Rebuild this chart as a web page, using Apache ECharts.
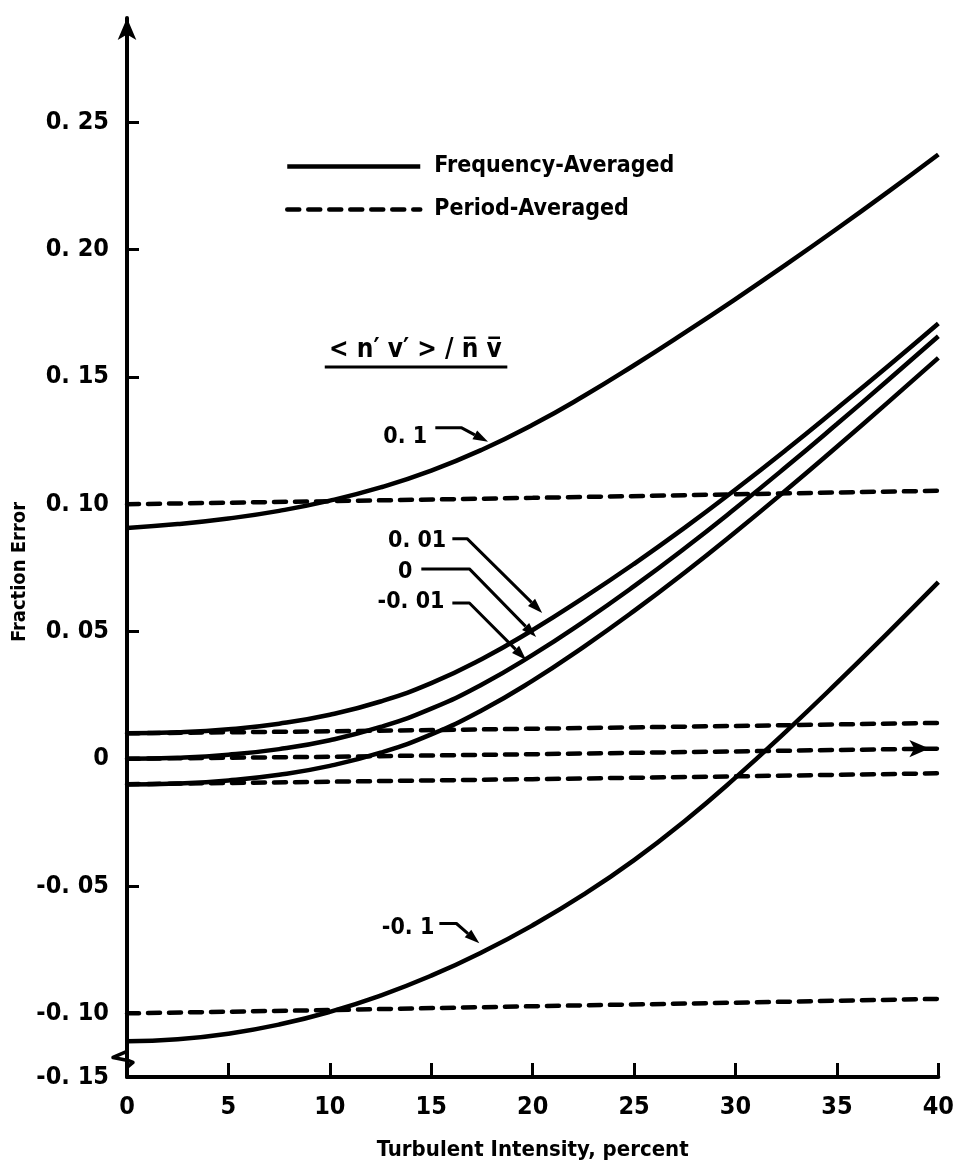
<!DOCTYPE html>
<html><head><meta charset="utf-8">
<script src="https://cdn.jsdelivr.net/npm/echarts@6/dist/echarts.min.js"></script>
<style>html,body{margin:0;padding:0;background:#fff}#c{width:957px;height:1175px}</style>
</head><body><div id="c"></div>
<script>
const FONT = '"Liberation Sans Narrow", "DejaVu Sans Condensed", "Liberation Sans", sans-serif';

// ---- data ----
const intensity = [0, 2.5, 5, 7.5, 10, 12.5, 15, 17.5, 20, 22.5, 25, 27.5, 30, 32.5, 35, 37.5, 40];
const freqP10  = [0.0907, 0.0922, 0.0944, 0.0974, 0.1014, 0.1066, 0.1132, 0.1214, 0.1312, 0.1424, 0.1546, 0.1674, 0.1806, 0.1942, 0.2082, 0.2226, 0.2374];
const freqP01  = [0.0100, 0.0104, 0.0116, 0.0138, 0.0173, 0.0225, 0.0297, 0.0392, 0.0506, 0.0632, 0.0766, 0.0908, 0.1058, 0.1214, 0.1376, 0.1541, 0.1710];
const freqZero = [0.0000, 0.0004, 0.0016, 0.0038, 0.0073, 0.0125, 0.0197, 0.0292, 0.0408, 0.0538, 0.0678, 0.0827, 0.0984, 0.1147, 0.1315, 0.1486, 0.1660];
const freqM01  = [-0.0101, -0.0097, -0.0085, -0.0063, -0.0028, 0.0024, 0.0096, 0.0191, 0.0307, 0.0439, 0.0581, 0.0732, 0.0891, 0.1056, 0.1226, 0.1399, 0.1575];
const freqM10  = [-0.1110, -0.1102, -0.1080, -0.1044, -0.0994, -0.0930, -0.0852, -0.0760, -0.0654, -0.0534, -0.0398, -0.0244, -0.0074, 0.0108, 0.0298, 0.0494, 0.0694];

const periodIntensity = [0, 10, 20, 30, 40];
const perP10  = [0.1000, 0.1012, 0.1025, 0.1039, 0.1053];
const perP01  = [0.0100, 0.0108, 0.0118, 0.0129, 0.0141];
const perZero = [0.0000, 0.0008, 0.0018, 0.0029, 0.0040];
const perM01  = [-0.0100, -0.0090, -0.0080, -0.0069, -0.0057];
const perM10  = [-0.1000, -0.0987, -0.0972, -0.0958, -0.0943];

const xTicks = [0, 5, 10, 15, 20, 25, 30, 35, 40];
const yTickValues = [-0.125, -0.10, -0.05, 0, 0.05, 0.10, 0.15, 0.20, 0.25];
const yTickLabels = ['-0. 15', '-0. 10', '-0. 05', '0', '0. 05', '0. 10', '0. 15', '0. 20', '0. 25'];

const curveLabels = ['0. 1', '0. 01', '0', '-0. 01', '-0. 1'];
const legendNames = ['Frequency-Averaged', 'Period-Averaged'];
const ratioLabel = '< n\u2032 v\u2032 > / n\u0305 v\u0305';

// annotation layout (data coordinates)
const annLayout = [
  {at: [14.8, 0.1265], path: [[15.2, 0.130], [16.5, 0.130], [17.8, 0.1245]]},
  {at: [15.74, 0.0856], path: [[16.04, 0.0864], [16.78, 0.0864], [20.47, 0.0573]]},
  {at: [14.07, 0.0734], path: [[14.51, 0.0746], [16.88, 0.0746], [20.17, 0.0478]]},
  {at: [15.65, 0.0616], path: [[16.04, 0.0612], [16.88, 0.0612], [19.68, 0.0388]]},
  {at: [15.15, -0.0663], path: [[15.40, -0.0647], [16.24, -0.0647], [17.37, -0.0725]]}
];

const zip = (xs, ys) => xs.map((x, i) => [x, ys[i]]);
const solid = {color: '#000', width: 4.5, type: 'solid'};
const dashed = {color: '#000', width: 4.5, type: [12, 9], cap: 'round'};

function solidSeries(ys) {
  return {name: legendNames[0], type: 'line', data: zip(intensity, ys), smooth: 0.5,
    symbol: 'none', lineStyle: solid, itemStyle: {color: '#000'}, z: 3};
}
function dashSeries(ys, arrow) {
  const d = zip(periodIntensity, ys);
  if (arrow) {
    const last = d.length - 1;
    d[last] = {value: d[last], symbol: 'arrow', symbolSize: [13, 20], symbolRotate: -90, symbolOffset: [-9, 0]};
  }
  return {name: legendNames[1], type: 'line', data: d, symbol: 'none', showSymbol: !!arrow, showAllSymbol: true,
    lineStyle: dashed, itemStyle: {color: '#000'}, z: 2};
}

const chart = echarts.init(document.getElementById('c'), null, {renderer: 'canvas'});
const txt = {fontFamily: FONT, fontWeight: 'bold', color: '#000'};

chart.setOption({
  animation: false,
  backgroundColor: '#fff',
  grid: {left: 127, right: 17, top: 18, bottom: 98, containLabel: false},
  legend: {
    data: legendNames, orient: 'vertical', left: 285, top: 155, padding: 0, itemWidth: 133, itemHeight: 14, itemGap: 20,
    selectedMode: false, itemStyle: {opacity: 0}, lineStyle: {width: 4.5, color: '#000'},
    textStyle: Object.assign({fontSize: 23, padding: [0, 0, 0, 9]}, txt)
  },
  xAxis: {
    type: 'value', min: 0, max: 40, interval: 5,
    axisLine: {onZero: false, lineStyle: {color: '#000', width: 4}},
    axisTick: {inside: true, length: 14, lineStyle: {color: '#000', width: 3}},
    axisLabel: Object.assign({fontSize: 25, margin: 18, formatter: v => String(xTicks[xTicks.indexOf(v)])}, txt),
    splitLine: {show: false},
    name: 'Turbulent Intensity, percent', nameLocation: 'middle', nameGap: 62,
    nameTextStyle: Object.assign({fontSize: 22}, txt)
  },
  yAxis: {
    type: 'value', min: -0.125, max: 0.291,
    axisLine: {show: true, onZero: false, lineStyle: {color: '#000', width: 4}, symbol: ['none', 'arrow'], symbolSize: [14, 22]},
    axisTick: {show: true, inside: true, length: 12, lineStyle: {color: '#000', width: 3},
      customValues: yTickValues.slice(1)},
    axisLabel: Object.assign({fontSize: 25, margin: 18, customValues: yTickValues,
      formatter: v => {
        let best = 0;
        yTickValues.forEach((t, i) => { if (Math.abs(t - v) < Math.abs(yTickValues[best] - v)) best = i; });
        return yTickLabels[best];
      }}, txt),
    splitLine: {show: false}
  },
  series: [
    solidSeries(freqP10), solidSeries(freqP01), solidSeries(freqZero), solidSeries(freqM01), solidSeries(freqM10),
    dashSeries(perP10, false), dashSeries(perP01, false), dashSeries(perZero, true), dashSeries(perM01, false), dashSeries(perM10, false)
  ]
});

// ---- annotations positioned through the chart's own scales ----
const P = p => chart.convertToPixel({gridIndex: 0}, p);
const g = [];
g.push({type: 'text', x: 20, y: 572, rotation: Math.PI / 2,
  style: {text: 'Fraction Error', fontSize: 20, align: 'center', verticalAlign: 'middle', fill: '#000',
    fontFamily: FONT, fontWeight: 'bold'}});

annLayout.forEach((a, i) => {
  const at = P(a.at);
  g.push({type: 'text', x: at[0], y: at[1], style: {text: curveLabels[i], fontFamily: FONT, fontWeight: 'bold',
    fontSize: 23, fill: '#000', align: 'right', verticalAlign: 'middle'}});
  const pts = a.path.map(P);
  const tip = pts[pts.length - 1], prev = pts[pts.length - 2];
  let dx = tip[0] - prev[0], dy = tip[1] - prev[1];
  const len = Math.hypot(dx, dy); dx /= len; dy /= len;
  const L = 15, W = 10;
  const base = [tip[0] - dx * L, tip[1] - dy * L];
  const line = pts.slice(0, -1).concat([base]);
  g.push({type: 'polyline', shape: {points: line}, style: {stroke: '#000', lineWidth: 3, fill: null, lineJoin: 'round'}});
  g.push({type: 'polygon', shape: {points: [tip, [base[0] - dy * W / 2, base[1] + dx * W / 2], [base[0] + dy * W / 2, base[1] - dx * W / 2]]},
    style: {fill: '#000'}});
});

// ratio heading with underline
const rh = P([14.22, 0.1606]);
g.push({type: 'text', x: rh[0], y: rh[1], style: {text: ratioLabel, fontFamily: FONT, fontWeight: 'bold', fontSize: 26,
  fill: '#000', align: 'center', verticalAlign: 'middle'}});
const u1 = P([9.75, 0.1539]), u2 = P([18.75, 0.1539]);
g.push({type: 'line', shape: {x1: u1[0], y1: u1[1], x2: u2[0], y2: u2[1]}, style: {stroke: '#000', lineWidth: 3}});

// axis break mark near the bottom of the value axis
const br = P([0, -0.1185]);
const zz = [[0, -9], [-14, -3], [1, 0], [6, 2], [0, 7]].map(o => [br[0] + o[0], br[1] + o[1]]);
g.push({type: 'polyline', shape: {points: zz}, style: {stroke: '#000', lineWidth: 3.5, fill: null, lineJoin: 'round'}});

chart.setOption({graphic: g});
</script>
</body></html>
